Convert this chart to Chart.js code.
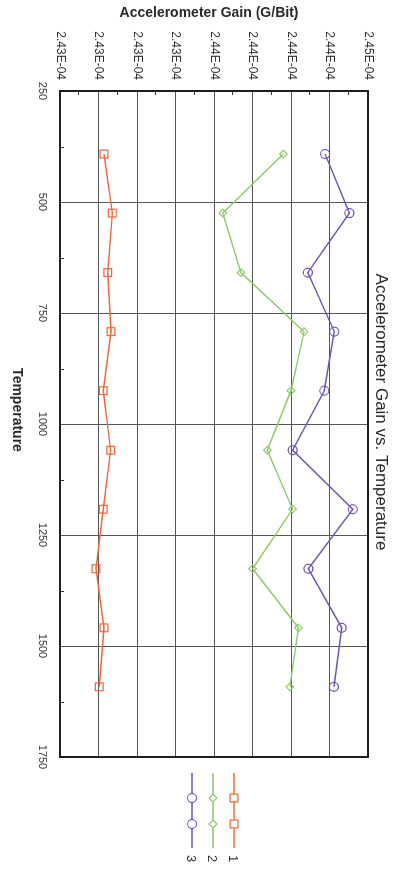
<!DOCTYPE html>
<html>
<head>
<meta charset="utf-8">
<title>Accelerometer Gain vs. Temperature</title>
<script src="https://cdn.jsdelivr.net/npm/chart.js@4.4.1/dist/chart.umd.min.js"></script>
<style>
    html, body { margin: 0; padding: 0; background: #fff; overflow: hidden; }
    body { width: 401px; height: 878px; position: relative; }
    /* the chart is laid out landscape and turned a quarter clockwise */
    #wrap {
        position: absolute;
        left: 401px;
        top: 0;
        width: 878px;
        height: 401px;
        transform-origin: 0 0;
        transform: rotate(90deg);
    }
</style>
</head>
<body>
<div id="wrap"><canvas id="gain-chart" width="878" height="401"></canvas></div>
<script>
// Temperature of each measurement
const temperatures = [392, 525, 659, 792, 925, 1059, 1192, 1326, 1459, 1592];

// Gain readings (G/Bit) for each unit
const gain1 = [2.42886e-4, 2.42940e-4, 2.42910e-4, 2.42931e-4, 2.42881e-4, 2.42929e-4, 2.42881e-4, 2.42834e-4, 2.42886e-4, 2.42855e-4];
const gain2 = [2.44050e-4, 2.43657e-4, 2.43775e-4, 2.44185e-4, 2.44100e-4, 2.43946e-4, 2.44110e-4, 2.43851e-4, 2.44148e-4, 2.44093e-4];
const gain3 = [2.44321e-4, 2.44479e-4, 2.44209e-4, 2.44381e-4, 2.44316e-4, 2.44111e-4, 2.44501e-4, 2.44213e-4, 2.44429e-4, 2.44379e-4];

const seriesNames = ['1', '2', '3'];

// Gain axis ticks and their printed labels
const gainTickValues = [2.4260e-4, 2.4285e-4, 2.4310e-4, 2.4335e-4, 2.4360e-4, 2.4385e-4, 2.4410e-4, 2.4435e-4, 2.4460e-4];
const gainTickLabels = ['2.43E-04', '2.43E-04', '2.43E-04', '2.43E-04', '2.44E-04', '2.44E-04', '2.44E-04', '2.44E-04', '2.45E-04'];

// Temperature axis
const tempMin = 250;
const tempMax = 1750;
const tempStep = 250;

const FONT = "'Liberation Sans', Arial, sans-serif";

function toPoints(values) {
    return temperatures.map((t, i) => ({ x: t, y: values[i] }));
}

// Frame round the plot plus the small inner ticks between grid lines
const frameTicks = {
    id: 'frameTicks',
    beforeDatasetsDraw(chart) {
        const { ctx, chartArea: a, scales } = chart;
        const x = scales.x, y = scales.y;
        ctx.save();
        ctx.strokeStyle = '#333';
        ctx.lineWidth = 1;
        ctx.beginPath();
        for (let t = tempMin + tempStep / 2; t < tempMax; t += tempStep) {
            const px = Math.round(x.getPixelForValue(t)) + 0.5;
            ctx.moveTo(px, a.bottom);
            ctx.lineTo(px, a.bottom - 4);
        }
        for (let i = 0; i < gainTickValues.length - 1; i++) {
            const v = (gainTickValues[i] + gainTickValues[i + 1]) / 2;
            const py = Math.round(y.getPixelForValue(v)) + 0.5;
            ctx.moveTo(a.left, py);
            ctx.lineTo(a.left + 4, py);
        }
        ctx.stroke();
        ctx.lineWidth = 2;
        ctx.strokeStyle = '#1e1e1e';
        ctx.strokeRect(a.left, a.top, a.right - a.left, a.bottom - a.top);
        ctx.restore();
    }
};

// Chart title and axis titles
const titles = {
    id: 'titles',
    afterDraw(chart) {
        const ctx = chart.ctx;
        ctx.save();
        ctx.fillStyle = '#2a2a2a';
        ctx.textAlign = 'center';
        ctx.textBaseline = 'middle';

        ctx.font = '17px ' + FONT;
        ctx.fillText('Accelerometer Gain vs. Temperature', 412, 20);

        ctx.font = 'bold 14px ' + FONT;
        ctx.fillText('Temperature', 410, 384);

        ctx.translate(13, 192);
        ctx.rotate(-Math.PI / 2);
        ctx.fillText('Accelerometer Gain (G/Bit)', 0, 0);
        ctx.restore();
    }
};

// Legend: line with two markers, name on the right
const sideLegend = {
    id: 'sideLegend',
    afterDraw(chart) {
        const ctx = chart.ctx;
        ctx.save();
        chart.data.datasets.forEach((ds, i) => {
            const yy = 167 + i * 21;
            ctx.strokeStyle = ds.borderColor;
            ctx.lineWidth = ds.borderWidth;
            ctx.beginPath();
            ctx.moveTo(773, yy);
            ctx.lineTo(848, yy);
            ctx.stroke();
            ctx.fillStyle = '#fff';
            ctx.lineWidth = ds.pointBorderWidth;
            [798, 824].forEach(px => {
                Chart.helpers.drawPoint(ctx, {
                    pointStyle: ds.pointStyle,
                    radius: ds.pointRadius,
                    rotation: 0,
                    borderWidth: ds.pointBorderWidth
                }, px, yy);
            });
            ctx.fillStyle = '#333';
            ctx.font = '13px ' + FONT;
            ctx.textAlign = 'left';
            ctx.textBaseline = 'middle';
            ctx.fillText(ds.label, 855, yy + 1);
        });
        ctx.restore();
    }
};

const seriesStyles = [
    { color: '#f2673a', pointStyle: 'rect', radius: 5.5 },
    { color: '#8dc86a', pointStyle: 'rectRot', radius: 3.8 },
    { color: '#7052b8', pointStyle: 'circle', radius: 4.5 }
];

const ctx = document.getElementById('gain-chart').getContext('2d');

new Chart(ctx, {
    type: 'line',
    data: {
        datasets: [gain1, gain2, gain3].map((values, i) => ({
            label: seriesNames[i],
            data: toPoints(values),
            borderColor: seriesStyles[i].color,
            borderWidth: 1.4,
            pointStyle: seriesStyles[i].pointStyle,
            pointRadius: seriesStyles[i].radius,
            pointBorderWidth: 1.2,
            pointBorderColor: seriesStyles[i].color,
            pointBackgroundColor: 'rgba(0,0,0,0)',
            tension: 0,
            fill: false
        }))
    },
    options: {
        responsive: false,
        devicePixelRatio: 1,
        animation: false,
        layout: {
            padding: { top: 33, right: 121, bottom: 0, left: 0 }
        },
        plugins: {
            legend: { display: false },
            title: { display: false },
            tooltip: { enabled: false }
        },
        scales: {
            x: {
                type: 'linear',
                min: tempMin,
                max: tempMax,
                ticks: {
                    stepSize: tempStep,
                    color: '#333',
                    font: { family: FONT, size: 11 },
                    padding: 11,
                    maxRotation: 0,
                    callback: v => String(v)
                },
                grid: { color: '#555', lineWidth: 1, drawTicks: false },
                border: { display: false },
                afterFit(scale) { scale.height = 60; }
            },
            y: {
                type: 'linear',
                min: gainTickValues[0],
                max: gainTickValues[gainTickValues.length - 1],
                afterBuildTicks(scale) {
                    scale.ticks = gainTickValues.map(v => ({ value: v }));
                },
                ticks: {
                    color: '#333',
                    font: { family: FONT, size: 12 },
                    padding: 11,
                    callback: (v, i) => gainTickLabels[i]
                },
                grid: { color: '#555', lineWidth: 1, drawTicks: false },
                border: { display: false },
                afterFit(scale) { scale.width = 91; }
            }
        }
    },
    plugins: [frameTicks, titles, sideLegend]
});
</script>
</body>
</html>
